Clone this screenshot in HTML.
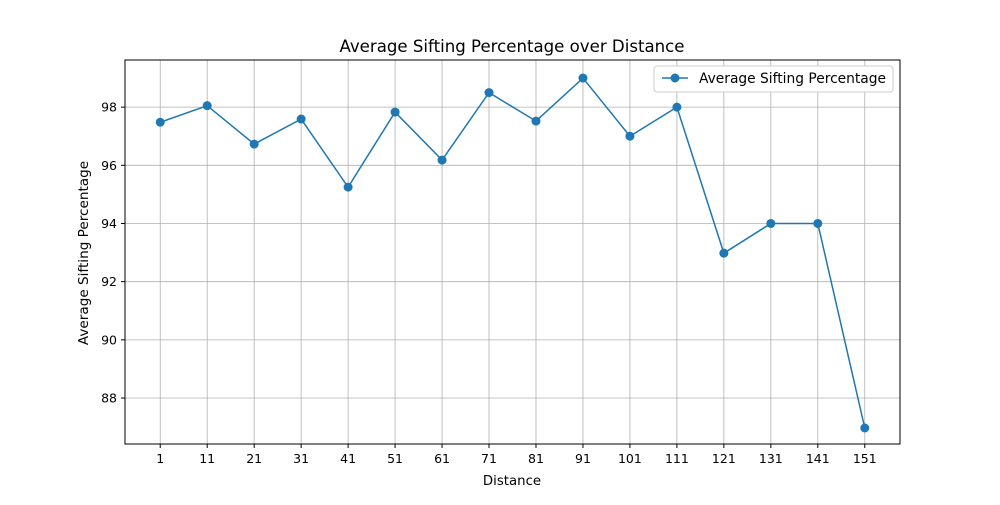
<!DOCTYPE html>
<html><head><meta charset="utf-8"><style>
body{margin:0;background:#fff;font-family:"Liberation Sans","DejaVu Sans",sans-serif}
</style></head><body>
<svg width="1000" height="500" font-family="DejaVu Sans, Liberation Sans, sans-serif">
<rect width="1000" height="500" fill="#fff"/>
<g id="grid"></g>
<g id="ticks" font-size="12.5" fill="#000"></g>
<rect x="125" y="60" width="775" height="384" fill="none" stroke="#000" stroke-width="1"/>
<g id="series"></g>
<text x="512" y="52" text-anchor="middle" font-size="16.6">Average Sifting Percentage over Distance</text>
<text x="512" y="485" text-anchor="middle" font-size="13.3">Distance</text>
<text transform="translate(88,253) rotate(-90)" text-anchor="middle" font-size="13.6">Average Sifting Percentage</text>
<g>
<rect x="654" y="66" width="239" height="26" rx="3" fill="#fff" stroke="#ccc"/>
<line x1="662" y1="78" x2="688" y2="78" stroke="#1f77b4" stroke-width="1.5"/>
<circle cx="675" cy="78" r="4.5" fill="#1f77b4"/>
<text x="699" y="83" font-size="13.8">Average Sifting Percentage</text>
</g>
</svg>
<script>
const categories=[1,11,21,31,41,51,61,71,81,91,101,111,121,131,141,151];
const values=[97.48,98.05,96.73,97.59,95.25,97.83,96.18,98.5,97.52,99.0,97.0,98.0,92.98,94.0,94.0,86.97];
const yTicks=[88,90,92,94,96,98];
const X0=125,X1=900,Y0=60,Y1=444,xmin=-6.5,xmax=158.5,ymin=86.42,ymax=99.62;
const xs=v=>X0+(v-xmin)/(xmax-xmin)*(X1-X0);
const ys=v=>Y1-(v-ymin)/(ymax-ymin)*(Y1-Y0);
const NS="http://www.w3.org/2000/svg";
const grid=document.getElementById('grid'),ticks=document.getElementById('ticks'),series=document.getElementById('series');
function mk(t,a,p){const e=document.createElementNS(NS,t);for(const k in a)e.setAttribute(k,a[k]);p.appendChild(e);return e;}
categories.forEach(c=>{const x=xs(c);
 const g=mk('line',{x1:x,x2:x,y1:Y0,y2:Y1,stroke:'#b0b0b0','stroke-width':0.8},grid);
 
 
 mk('line',{x1:x,x2:x,y1:Y1,y2:Y1+4,stroke:'#000'},ticks);
 const t=mk('text',{x:x,y:Y1+19,'text-anchor':'middle'},ticks);t.textContent=c;
 
 
});
yTicks.forEach(v=>{const y=ys(v);
 const g=mk('line',{x1:X0,x2:X1,y1:y,y2:y,stroke:'#b0b0b0','stroke-width':0.8},grid);
 
 
 mk('line',{x1:X0-4,x2:X0,y1:y,y2:y,stroke:'#000'},ticks);
 const t=mk('text',{x:X0-8,y:y+4.5,'text-anchor':'end'},ticks);t.textContent=v;
 
 
});
const pl=mk('polyline',{points:categories.map((c,i)=>xs(c)+','+ys(values[i])).join(' '),fill:'none',stroke:'#1f77b4','stroke-width':1.5},series);


categories.forEach((c,i)=>{const p=mk('circle',{cx:xs(c),cy:ys(values[i]),r:4.5,fill:'#1f77b4'},series);
 
 
});
</script>
</body></html>
